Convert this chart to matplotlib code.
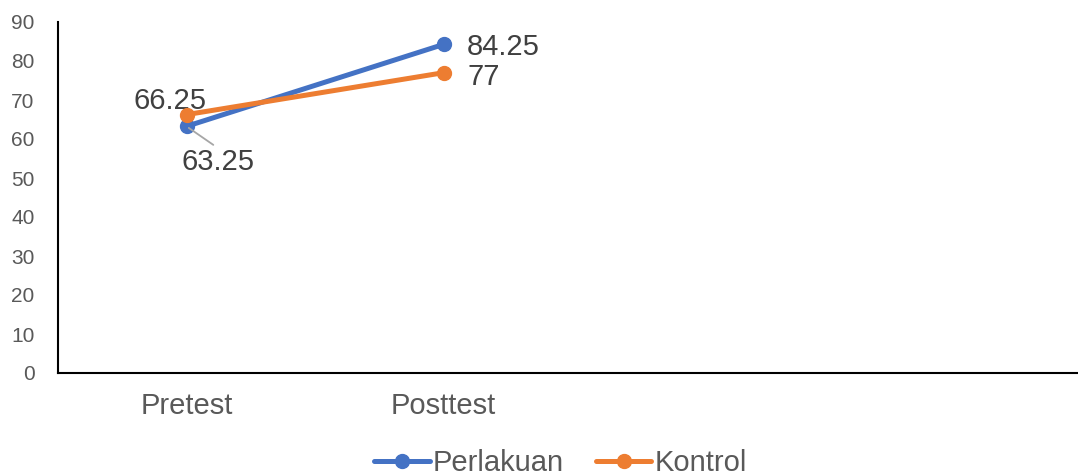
import numpy as np
import matplotlib
matplotlib.use("Agg")
import matplotlib.pyplot as plt

plt.rcParams['font.family'] = ['Liberation Sans', 'DejaVu Sans']

categories = ["Pretest", "Posttest", "", ""]
perlakuan = [63.25, 84.25]
kontrol = [66.25, 77]
series_names = ["Perlakuan", "Kontrol"]
colors = ["#4472C4", "#ED7D31"]

fig = plt.figure(figsize=(10.78, 4.75), dpi=100)
# axes slightly wider than the figure: the right end of the category axis is cut off
ax = fig.add_axes([58 / 1078, 1 - 373 / 475, 1028 / 1078, 351 / 475])

x = np.arange(len(perlakuan))
ax.plot(x, perlakuan, color=colors[0], lw=3.6, marker='o', ms=10, label=series_names[0],
        solid_capstyle='round', zorder=3)
ax.plot(x, kontrol, color=colors[1], lw=3.6, marker='o', ms=10, label=series_names[1],
        solid_capstyle='round', zorder=4)

lab = dict(fontsize=21, color='#404040')
# data labels
ax.annotate(f"{perlakuan[0]:g}", (x[0], perlakuan[0]), xytext=(23, -26), textcoords='offset points',
            ha='center', va='center',
            arrowprops=dict(arrowstyle='-', color='#A6A6A6', lw=1.3, relpos=(0.5, 1.0),
                            shrinkA=1, shrinkB=2), **lab)
ax.annotate(f"{kontrol[0]:g}", (x[0], kontrol[0]), xytext=(-12, 10), textcoords='offset points',
            ha='center', va='center', **lab)
ax.annotate(f"{perlakuan[1]:g}", (x[1], perlakuan[1]), xytext=(17, -2), textcoords='offset points',
            ha='left', va='center', **lab)
ax.annotate(f"{kontrol[1]:g}", (x[1], kontrol[1]), xytext=(17, -3), textcoords='offset points',
            ha='left', va='center', **lab)

ax.set_xlim(-0.5, len(categories) - 0.5)
ax.set_ylim(0, 90)
ax.set_yticks(range(0, 91, 10))
ax.set_xticks(range(len(categories)))
ax.set_xticklabels(categories)
ax.tick_params(axis='y', length=0, pad=17, labelsize=15, labelcolor='#595959')
ax.tick_params(axis='x', length=0, pad=14, labelsize=21, labelcolor='#595959')

for s in ['top', 'right']:
    ax.spines[s].set_visible(False)
ax.spines['left'].set_linewidth(1.5)
ax.spines['bottom'].set_linewidth(1.5)
ax.spines['left'].set_color('black')
ax.spines['bottom'].set_color('black')

leg = fig.legend(loc='center', bbox_to_anchor=(0.52, 0.025), ncol=2, frameon=False,
                 fontsize=21, handlelength=1.9, handletextpad=0.1, columnspacing=1.1,
                 borderpad=0)
for t in leg.get_texts():
    t.set_color('#595959')

fig.savefig("out.png", dpi=100)
